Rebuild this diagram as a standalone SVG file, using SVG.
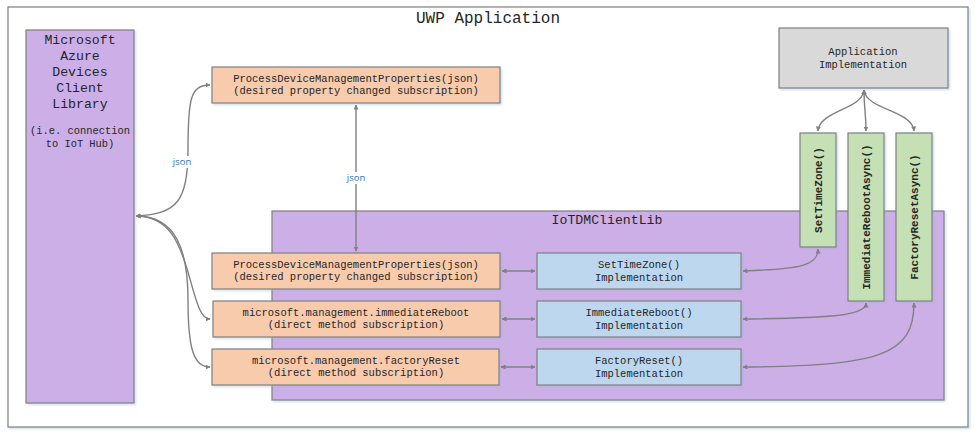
<svg xmlns="http://www.w3.org/2000/svg" width="980" height="437" viewBox="0 0 980 437">
<style>
.box{stroke:#7f7f7f;stroke-width:1.2}
.purple{fill:#ccafe6}
.orange{fill:#f8cbad}
.blue{fill:#bdd7ee}
.green{fill:#c5e0b4}
.gray{fill:#d9d9d9}
.t{font-family:"Liberation Mono","Courier New",monospace;fill:#262626;text-anchor:middle}
.s{font-size:10.5px}
.g{font-size:11px;font-weight:bold}
.c{fill:none;stroke:#808080;stroke-width:1.4;marker-start:url(#ah);marker-end:url(#ah)}
.lbl{font-family:"Open Sans","Liberation Sans",sans-serif;font-size:9.5px;fill:#2e75b6;text-anchor:middle}
</style>
<defs>
<marker id="ah" viewBox="0 0 10 10" refX="9" refY="5" markerWidth="5" markerHeight="5" orient="auto-start-reverse" markerUnits="userSpaceOnUse">
<path d="M0,0 L10,5 L0,10 z" fill="#808080"/>
</marker>
<filter id="sh" x="-5%" y="-5%" width="115%" height="115%">
<feDropShadow dx="1.5" dy="1.5" stdDeviation="1.2" flood-color="#9db7d6" flood-opacity="0.45"/>
</filter>
</defs>
<rect width="980" height="437" fill="#ffffff"/>
<g id="uwp">
<rect x="8" y="7" width="960" height="420" fill="#ffffff" class="box" filter="url(#sh)"/>
<text x="488" y="23" class="t" style="font-size:16px">UWP Application</text>
</g>
<g id="azure">
<rect x="26" y="30" width="108" height="373" class="box purple" filter="url(#sh)"/>
<text class="t" style="font-size:13.2px"><tspan x="80" y="44">Microsoft</tspan><tspan x="80" y="60">Azure</tspan><tspan x="80" y="76">Devices</tspan><tspan x="80" y="92">Client</tspan><tspan x="80" y="108">Library</tspan></text>
<text class="t" style="font-size:10.4px"><tspan x="80" y="134">(i.e. connection</tspan><tspan x="80" y="147">to IoT Hub)</tspan></text>
</g>
<g id="pdmp-top">
<rect x="212" y="67" width="288" height="36" class="box orange" filter="url(#sh)"/>
<text class="t s"><tspan x="356" y="82">ProcessDeviceManagementProperties(json)</tspan><tspan x="356" y="94">(desired property changed subscription)</tspan></text>
</g>
<g id="iotdm">
<rect x="272" y="211" width="672" height="189" class="box purple" filter="url(#sh)"/>
<text x="607" y="224" class="t" style="font-size:13.2px">IoTDMClientLib</text>
</g>
<g id="pdmp-lib">
<rect x="212" y="253" width="288" height="36" class="box orange" filter="url(#sh)"/>
<text class="t s"><tspan x="356" y="268">ProcessDeviceManagementProperties(json)</tspan><tspan x="356" y="280">(desired property changed subscription)</tspan></text>
</g>
<g id="reboot-sub">
<rect x="213" y="301" width="287" height="36" class="box orange" filter="url(#sh)"/>
<text class="t s"><tspan x="356" y="316">microsoft.management.immediateReboot</tspan><tspan x="356" y="328">(direct method subscription)</tspan></text>
</g>
<g id="reset-sub">
<rect x="212" y="349" width="287" height="36" class="box orange" filter="url(#sh)"/>
<text class="t s"><tspan x="356" y="364">microsoft.management.factoryReset</tspan><tspan x="356" y="376">(direct method subscription)</tspan></text>
</g>
<g id="tz-impl">
<rect x="537" y="253" width="204" height="36" class="box blue" filter="url(#sh)"/>
<text class="t s"><tspan x="639" y="268">SetTimeZone()</tspan><tspan x="639" y="281">Implementation</tspan></text>
</g>
<g id="reboot-impl">
<rect x="537" y="301" width="204" height="36" class="box blue" filter="url(#sh)"/>
<text class="t s"><tspan x="639" y="316">ImmediateReboot()</tspan><tspan x="639" y="329">Implementation</tspan></text>
</g>
<g id="reset-impl">
<rect x="537" y="349" width="204" height="36" class="box blue" filter="url(#sh)"/>
<text class="t s"><tspan x="639" y="364">FactoryReset()</tspan><tspan x="639" y="377">Implementation</tspan></text>
</g>
<g id="app-impl">
<rect x="779" y="28" width="169" height="60" class="box gray" filter="url(#sh)"/>
<text class="t s"><tspan x="863" y="55">Application</tspan><tspan x="863" y="68">Implementation</tspan></text>
</g>
<g id="settz">
<rect x="800" y="133" width="36" height="114" class="box green" filter="url(#sh)"/>
<text transform="translate(818,190) rotate(-90)" x="0" y="4" class="t g">SetTimeZone()</text>
</g>
<g id="rebootasync">
<rect x="848" y="133" width="36" height="168" class="box green" filter="url(#sh)"/>
<text transform="translate(866,217) rotate(-90)" x="0" y="4" class="t g">ImmediateRebootAsync()</text>
</g>
<g id="resetasync">
<rect x="896" y="133" width="36" height="168" class="box green" filter="url(#sh)"/>
<text transform="translate(914,217) rotate(-90)" x="0" y="4" class="t g">FactoryResetAsync()</text>
</g>
<g id="connectors">
<path class="c" d="M136,216 C178,214 188,200 188,150 C188,100 190,85 210,85"/>
<path class="c" d="M136,216 C170,216 180,245 188,272 C196,300 200,319 210,319"/>
<path class="c" d="M136,216 C176,216 188,250 188,300 C188,350 194,367 210,367"/>
<rect x="172" y="156" width="20" height="12" fill="#ffffff"/>
<text x="182" y="165" class="lbl">json</text>
<path class="c" d="M356,105 L356,251"/>
<rect x="345" y="172" width="22" height="12" fill="#ffffff"/>
<text x="356" y="181" class="lbl">json</text>
<path class="c" d="M502,271 L535,271"/>
<path class="c" d="M502,319 L535,319"/>
<path class="c" d="M501,367 L535,367"/>
<path class="c" d="M743,271 C800,269 818,266 818,249"/>
<path class="c" d="M743,319 C830,318 866,316 866,303"/>
<path class="c" d="M743,367 C880,366 914,355 914,303"/>
<path class="c" d="M864,90 C862,110 820,110 818,131"/>
<path class="c" d="M864,90 C864,110 866,112 866,131"/>
<path class="c" d="M864,90 C866,110 912,110 914,131"/>
</g>
</svg>
